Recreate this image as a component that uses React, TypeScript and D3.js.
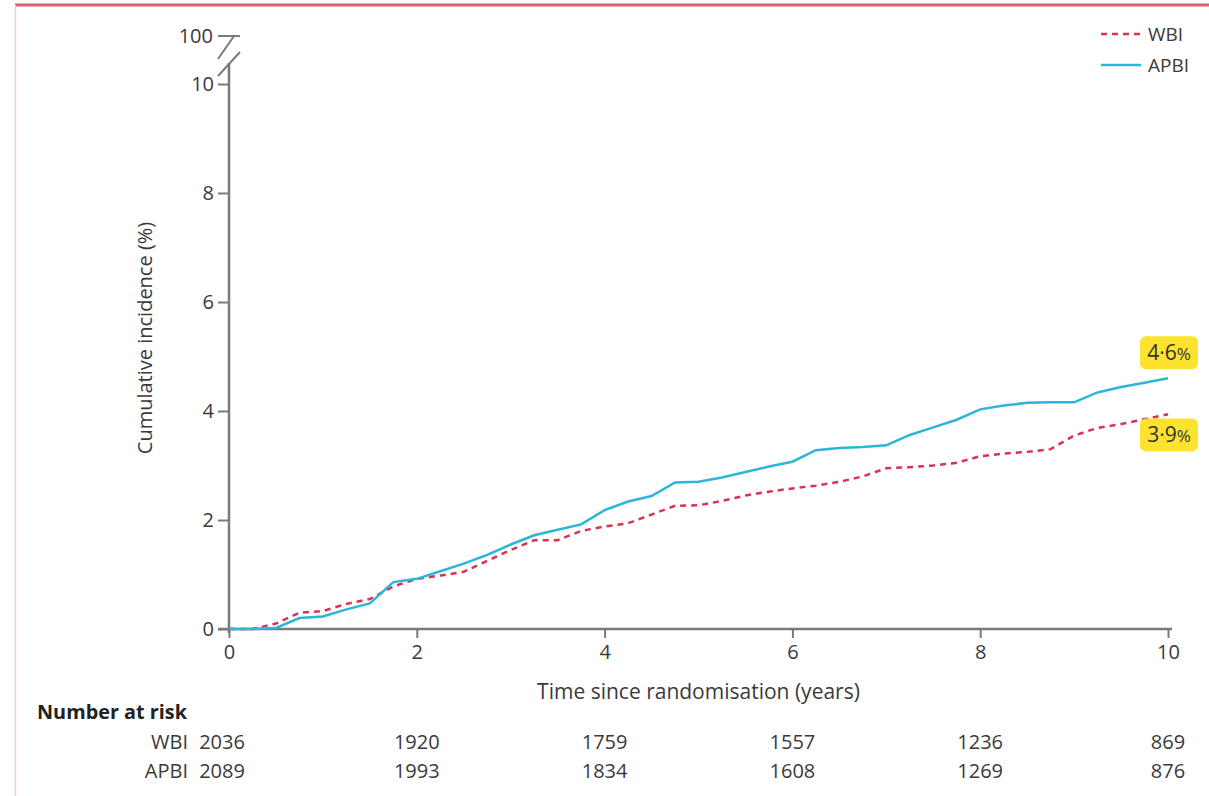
import React, { useEffect, useRef } from 'react';
import * as d3 from 'd3';

// time since randomisation (years)
const times = [0, 0.25, 0.5, 0.75, 1, 1.25, 1.5, 1.75, 2, 2.25, 2.5, 2.75, 3, 3.25, 3.5, 3.75, 4, 4.25, 4.5, 4.75, 5,
    5.25, 5.5, 5.75, 6, 6.25, 6.5, 6.75, 7, 7.25, 7.5, 7.75, 8, 8.25, 8.5, 8.75, 9, 9.25, 9.5, 9.75, 10];
const apbiValues = [0, 0, 0.02, 0.2, 0.23, 0.36, 0.47, 0.86, 0.92, 1.06, 1.2, 1.36, 1.55, 1.72, 1.82, 1.92, 2.18, 2.34, 2.44, 2.69, 2.7,
    2.78, 2.88, 2.98, 3.07, 3.28, 3.32, 3.34, 3.37, 3.56, 3.7, 3.84, 4.03, 4.1, 4.15, 4.16, 4.16, 4.34, 4.44, 4.52, 4.6];
const wbiValues = [0, 0, 0.1, 0.3, 0.33, 0.46, 0.55, 0.78, 0.92, 0.98, 1.05, 1.25, 1.45, 1.63, 1.63, 1.8, 1.88, 1.94, 2.1, 2.26, 2.27,
    2.35, 2.45, 2.52, 2.58, 2.63, 2.7, 2.8, 2.95, 2.97, 3.0, 3.05, 3.17, 3.22, 3.25, 3.3, 3.55, 3.69, 3.76, 3.85, 3.94];

const xTicks = [0, 2, 4, 6, 8, 10];
const yTicks = [0, 2, 4, 6, 8, 10];
const riskTimes = [0, 2, 4, 6, 8, 10];
const wbiAtRisk = [2036, 1920, 1759, 1557, 1236, 869];
const apbiAtRisk = [2089, 1993, 1834, 1608, 1269, 876];
const endLabels = [{ text: '4·6', value: 4.6 }, { text: '3·9', value: 3.9 }];

const BLUE = '#2bb6d8';
const RED = '#d8334f';
const AXIS = '#7a7a7a';
const TEXT = '#3a3a3a';
const FONT = '"Open Sans", sans-serif';

const App = () => {
    const svgRef = useRef<SVGSVGElement>(null);

    useEffect(() => {
        document.body.style.margin = '0';
        const svg = d3.select(svgRef.current);
        svg.selectAll('*').remove();

        const x = d3.scaleLinear().domain([0, 10]).range([229, 1168]);
        const y = d3.scaleLinear().domain([0, 10]).range([629, 84]);

        // frame
        svg.append('line').attr('x1', 15).attr('x2', 1209).attr('y1', 5).attr('y2', 5)
            .attr('stroke', '#de5d6e').attr('stroke-width', 3);
        svg.append('line').attr('x1', 15.5).attr('x2', 15.5).attr('y1', 5).attr('y2', 796)
            .attr('stroke', '#f6cdd4').attr('stroke-width', 1.5);

        // x axis
        const xAxis = svg.append('g').attr('transform', `translate(0,${y(0)})`)
            .call(d3.axisBottom(x).tickValues(xTicks).tickSize(9).tickPadding(7).tickFormat(d3.format('d')));
        xAxis.select('.domain').remove();
        xAxis.append('line').attr('x1', 218).attr('x2', 1172).attr('stroke', AXIS).attr('stroke-width', 2.5);
        xAxis.selectAll('.tick line').attr('stroke', AXIS).attr('stroke-width', 2);
        xAxis.selectAll('.tick text').attr('fill', TEXT).style('font-family', FONT).style('font-size', '20px');

        // y axis
        const yAxis = svg.append('g').attr('transform', `translate(${x(0)},0)`)
            .call(d3.axisLeft(y).tickValues(yTicks).tickSize(11).tickPadding(4).tickFormat(d3.format('d')));
        yAxis.select('.domain').remove();
        yAxis.append('line').attr('y1', 63).attr('y2', 633).attr('stroke', AXIS).attr('stroke-width', 2.5);
        yAxis.selectAll('.tick line').attr('stroke', AXIS).attr('stroke-width', 2);
        yAxis.selectAll('.tick text').attr('fill', TEXT).style('font-family', FONT).style('font-size', '20px');

        // axis break to 100
        const brk = svg.append('g').attr('stroke', AXIS).attr('stroke-width', 2).attr('fill', 'none');
        brk.append('path').attr('d', 'M218,36 L234,36 L218,59');
        brk.append('path').attr('d', 'M240,52 L218,76');
        brk.append('line').attr('x1', 234).attr('y1', 36).attr('x2', 240).attr('y2', 36);
        svg.append('text').attr('x', 213).attr('y', 36).attr('dy', '0.34em').attr('text-anchor', 'end')
            .attr('fill', TEXT).style('font-family', FONT).style('font-size', '20px').text('100');

        // axis titles
        svg.append('text').attr('x', (x(0) + x(10)) / 2).attr('y', 699).attr('text-anchor', 'middle')
            .attr('fill', TEXT).style('font-family', FONT).style('font-size', '21px')
            .text('Time since randomisation (years)');
        svg.append('text').attr('transform', `translate(152,338) rotate(-90)`).attr('text-anchor', 'middle')
            .attr('fill', TEXT).style('font-family', FONT).style('font-size', '20px')
            .text('Cumulative incidence (%)');

        // curves
        const line = d3.line<number>().x((_, i) => x(times[i])).y(d => y(d));
        svg.append('path').datum(wbiValues).attr('d', line).attr('fill', 'none')
            .attr('stroke', RED).attr('stroke-width', 2.5).attr('stroke-dasharray', '6,5');
        svg.append('path').datum(apbiValues).attr('d', line).attr('fill', 'none')
            .attr('stroke', BLUE).attr('stroke-width', 2.5);

        // end labels
        endLabels.forEach((d, i) => {
            const cy = i === 0 ? y(d.value) - 26 : y(d.value) + 18;
            svg.append('rect').attr('x', 1140).attr('y', cy - 16).attr('width', 58).attr('height', 33)
                .attr('rx', 6).attr('fill', '#fde22e');
            const t = svg.append('text').attr('x', 1169).attr('y', cy).attr('dy', '0.36em').attr('text-anchor', 'middle')
                .attr('fill', '#333').style('font-family', FONT).style('font-size', '21px');
            t.append('tspan').text(d.text);
            t.append('tspan').style('font-size', '17px').text('%');
        });

        // legend
        const legend = svg.append('g');
        legend.append('line').attr('x1', 1101).attr('x2', 1141).attr('y1', 34).attr('y2', 34)
            .attr('stroke', RED).attr('stroke-width', 2.5).attr('stroke-dasharray', '6,5');
        legend.append('line').attr('x1', 1101).attr('x2', 1141).attr('y1', 65).attr('y2', 65)
            .attr('stroke', BLUE).attr('stroke-width', 2.5);
        legend.append('text').attr('x', 1148).attr('y', 34).attr('dy', '0.35em').attr('fill', TEXT)
            .style('font-family', FONT).style('font-size', '19px').text('WBI');
        legend.append('text').attr('x', 1148).attr('y', 65).attr('dy', '0.35em').attr('fill', TEXT)
            .style('font-family', FONT).style('font-size', '19px').text('APBI');

        // number at risk table
        svg.append('text').attr('x', 37).attr('y', 712).attr('dy', '0.35em').attr('fill', '#222')
            .style('font-family', FONT).style('font-size', '20px').style('font-weight', 700)
            .attr('textLength', 150).attr('lengthAdjust', 'spacingAndGlyphs')
            .text('Number at risk');
        [['WBI', wbiAtRisk, 742], ['APBI', apbiAtRisk, 771]].forEach(([name, vals, ry]) => {
            svg.append('text').attr('x', 188).attr('y', ry as number).attr('dy', '0.35em').attr('text-anchor', 'end')
                .attr('fill', TEXT).style('font-family', FONT).style('font-size', '20px').text(name as string);
            svg.append('g').selectAll('text').data(vals as number[]).enter().append('text')
                .attr('x', (_, i) => x(riskTimes[i]) + (i === 0 ? -7 : 0))
                .attr('y', ry as number).attr('dy', '0.35em').attr('text-anchor', 'middle')
                .attr('fill', TEXT).style('font-family', FONT).style('font-size', '20px')
                .text(v => String(v));
        });
    }, []);

    return (
        <svg ref={svgRef} width={1209} height={796}
             style={{ display: 'block', position: 'absolute', left: 0, top: 0, background: '#fff' }} />
    );
};

export default App;
